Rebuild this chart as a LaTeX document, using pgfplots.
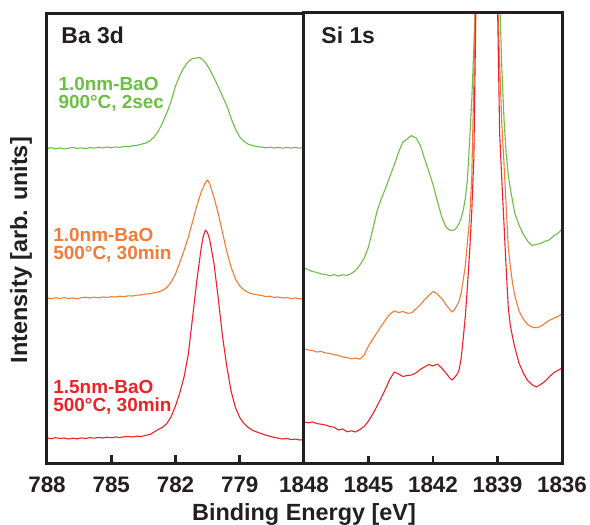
\documentclass[border=0pt]{standalone}
\usepackage{pgfplots}
\pgfplotsset{compat=1.18}
\usepackage{fontspec}
\setmainfont{Liberation Sans}
\definecolor{cgreen}{RGB}{109,190,69}
\definecolor{corange}{RGB}{244,123,54}
\definecolor{cred}{RGB}{236,34,39}
\definecolor{axgray}{RGB}{35,31,32}
\pgfplotsset{
  panel/.style={
    scale only axis, height=450bp, ymin=0, ymax=450, ytick=\empty,
    x dir=reverse, xtick pos=left, tick align=inside,
    line width=3bp, draw=axgray,
    major tick length=7.5bp,
    major tick style={line width=2.6bp, axgray},
    axis line style={line width=3bp, axgray},
    every outer x axis line/.append style={line width=3bp, axgray},
    every outer y axis line/.append style={line width=3bp, axgray},
    axis on top,
    /pgf/number format/assume math mode=true,
    xticklabel style={font=\fontsize{22.5}{22.5}\selectfont\bfseries, text=axgray, anchor=base, yshift=-29bp},
  },
  every axis plot/.append style={line width=1.1bp, line join=round},
}
\begin{document}
\begin{tikzpicture}
\begin{axis}[panel, width=257bp, at={(0bp,0bp)}, anchor=south west,
  xmin=776, xmax=788, xtick={788,785,782,779}, xticklabels={788,785,782,779},
  ylabel={Intensity [arb. units]},
  ylabel style={at={(axis description cs:-0.0778,0.473)}, anchor=base, font=\fontsize{23.5}{23.5}\selectfont\bfseries, text=axgray},
  xlabel={Binding Energy [eV]},
  xlabel style={at={(axis description cs:1,0)}, anchor=base, yshift=-57bp, font=\fontsize{23.5}{23.5}\selectfont\bfseries, text=axgray},
]
\addplot[cgreen] coordinates {
(788.0,314.5)(787.8,315.3)(787.6,314.2)(787.4,315.0)(787.2,314.0)(787.0,314.8)(786.8,315.6)(786.6,314.6)(786.4,315.2)(786.2,314.3)
(786.0,315.4)(785.8,314.9)(785.6,315.8)(785.4,315.0)(785.2,316.0)(785.0,315.2)(784.8,316.1)(784.6,315.6)(784.4,316.6)(784.2,316.2)
(784.0,317.3)(783.8,317.6)(783.6,318.8)(783.4,319.8)(783.2,322.0)(783.0,326.0)(782.8,332.0)(782.6,340.5)(782.4,350.5)(782.2,362.0)
(782.0,377.0)(781.8,387.5)(781.6,395.5)(781.4,401.5)(781.2,404.5)(781.0,405.0)(780.9,405.5)(780.8,404.5)(780.6,400.5)(780.4,393.5)
(780.2,385.0)(780.0,376.0)(779.8,366.5)(779.6,357.0)(779.4,344.5)(779.2,334.0)(779.0,326.0)(778.8,321.5)(778.6,318.8)(778.4,317.4)
(778.2,316.4)(778.0,316.0)(777.8,315.2)(777.6,315.8)(777.4,315.0)(777.2,315.6)(777.0,314.8)(776.8,315.5)(776.6,315.0)(776.4,315.6)
(776.2,314.9)(776.0,315.3)};
\addplot[corange] coordinates {
(788.0,165.0)(787.8,164.3)(787.6,165.2)(787.4,164.6)(787.2,165.4)(787.0,164.5)(786.8,165.0)(786.6,164.2)(786.4,165.3)(786.2,165.8)
(786.0,165.0)(785.8,165.9)(785.6,165.2)(785.4,166.0)(785.2,165.6)(785.0,166.3)(784.8,166.0)(784.6,166.8)(784.4,166.4)(784.2,167.2)
(784.0,167.0)(783.8,167.9)(783.6,168.0)(783.4,169.0)(783.2,169.3)(783.0,170.2)(782.8,171.0)(782.6,172.6)(782.4,175.5)(782.2,181.0)
(782.0,189.0)(781.8,200.5)(781.6,212.5)(781.4,226.0)(781.2,241.5)(781.0,257.5)(780.8,271.0)(780.6,280.5)(780.5,283.0)(780.4,279.0)
(780.2,265.5)(780.0,249.0)(779.8,230.0)(779.6,211.0)(779.4,195.5)(779.2,184.0)(779.0,177.0)(778.8,173.0)(778.6,170.5)(778.4,169.0)
(778.2,168.2)(778.0,167.6)(777.8,166.5)(777.6,166.8)(777.4,165.6)(777.2,166.0)(777.0,165.0)(776.8,165.4)(776.6,164.4)(776.4,165.0)
(776.2,164.2)(776.0,164.5)};
\addplot[cred] coordinates {
(788.0,25.0)(787.8,24.3)(787.6,25.3)(787.4,24.6)(787.2,25.0)(787.0,24.0)(786.8,24.8)(786.6,24.2)(786.4,25.1)(786.2,24.5)
(786.0,25.4)(785.8,24.8)(785.6,25.6)(785.4,25.0)(785.2,25.8)(785.0,25.3)(784.8,26.0)(784.6,25.4)(784.4,26.2)(784.2,26.6)
(784.0,26.0)(783.8,26.8)(783.6,26.5)(783.4,27.6)(783.2,28.4)(783.0,31.0)(782.8,33.6)(782.6,35.8)(782.4,39.5)(782.2,46.5)
(782.0,57.0)(781.8,70.0)(781.6,86.0)(781.4,109.0)(781.2,146.0)(781.0,183.0)(780.8,215.0)(780.7,227.0)(780.6,233.0)(780.5,230.0)
(780.4,223.0)(780.2,199.0)(780.0,164.0)(779.8,126.0)(779.6,96.0)(779.4,71.5)(779.2,55.5)(779.0,45.5)(778.8,39.5)(778.6,35.5)
(778.4,32.6)(778.2,31.0)(778.0,29.5)(777.8,28.0)(777.6,26.8)(777.4,25.6)(777.2,24.8)(777.0,24.0)(776.8,24.6)(776.6,23.4)
(776.4,23.9)(776.2,23.0)(776.0,23.5)};
\node[anchor=base west, inner sep=0pt, font=\fontsize{23}{23}\selectfont\bfseries, text=axgray] at (rel axis cs:0,1) [xshift=13bp, yshift=-30bp] {Ba 3d};
\node[anchor=base west, inner sep=0pt, font=\fontsize{19}{19}\selectfont\bfseries, text=cgreen] at (axis cs:787.53,373) {1.0nm-BaO};
\node[anchor=base west, inner sep=0pt, font=\fontsize{19}{19}\selectfont\bfseries, text=cgreen] at (axis cs:787.53,355) {900°C, 2sec};
\node[anchor=base west, inner sep=0pt, font=\fontsize{19}{19}\selectfont\bfseries, text=corange] at (axis cs:787.77,221.3) {1.0nm-BaO};
\node[anchor=base west, inner sep=0pt, font=\fontsize{19}{19}\selectfont\bfseries, text=corange] at (axis cs:787.77,203.3) {500°C, 30min};
\node[anchor=base west, inner sep=0pt, font=\fontsize{19}{19}\selectfont\bfseries, text=cred] at (axis cs:787.77,70.0) {1.5nm-BaO};
\node[anchor=base west, inner sep=0pt, font=\fontsize{19}{19}\selectfont\bfseries, text=cred] at (axis cs:787.77,52.0) {500°C, 30min};
\end{axis}
\begin{axis}[panel, width=258bp, at={(257bp,0bp)}, anchor=south west,
  xmin=1836, xmax=1848, xtick={1848,1845,1842,1839,1836}, xticklabels={1848,1845,1842,1839,1836},
]
\addplot[cgreen] coordinates {
(1848.0,195)(1847.8,193.2)(1847.6,191.5)(1847.4,190.6)(1847.2,189.0)(1847.0,188.6)(1846.8,187.2)(1846.6,188.4)(1846.4,187.0)(1846.2,188.2)
(1846.0,187.6)(1845.8,189.5)(1845.6,192.5)(1845.4,198.0)(1845.2,205.0)(1845.0,216.0)(1844.8,234.0)(1844.6,252.0)(1844.4,264.5)(1844.2,275.0)
(1844.0,287.0)(1843.8,298.0)(1843.6,311.0)(1843.4,321.0)(1843.2,324.0)(1843.0,327.5)(1842.9,326.0)(1842.8,325.5)(1842.6,318.0)(1842.4,305.0)
(1842.2,292.0)(1842.0,278.5)(1841.8,262.0)(1841.6,246.5)(1841.4,236.0)(1841.2,232.5)(1841.0,233.0)(1840.9,235.5)(1840.8,239.0)(1840.7,244.0)
(1840.6,252.0)(1840.5,264.0)(1840.4,283.0)(1840.3,320.0)(1840.2,362.0)(1840.1,415.0)(1840.0,480.0)(1839.45,1200)
(1838.9,465)(1838.8,396)(1838.7,345)(1838.6,310)(1838.5,288)(1838.4,274)(1838.2,250)(1838.0,238)(1837.8,228.5)(1837.6,222)
(1837.4,217.5)(1837.2,218.6)(1837.0,219.5)(1836.8,221.6)(1836.6,223.0)(1836.4,227.0)(1836.2,229.5)(1836.0,234.0)};
\addplot[corange] coordinates {
(1848.0,114.0)(1847.8,113.0)(1847.6,112.4)(1847.4,111.0)(1847.2,111.5)(1847.0,110.0)(1846.8,109.6)(1846.6,108.2)(1846.4,107.8)(1846.2,106.0)
(1846.0,105.5)(1845.8,104.2)(1845.6,105.0)(1845.4,103.8)(1845.2,108.0)(1845.0,117.0)(1844.8,124.0)(1844.6,130.5)(1844.4,137.0)(1844.2,143.5)
(1844.0,149.0)(1843.8,152.0)(1843.6,150.5)(1843.4,151.5)(1843.2,149.8)(1843.0,150.0)(1842.8,154.0)(1842.6,158.0)(1842.4,163.0)(1842.2,167.5)
(1842.0,171.5)(1841.9,170.5)(1841.8,169.0)(1841.6,164.5)(1841.4,158.5)(1841.2,153.0)(1841.1,151.0)(1841.0,153.5)(1840.9,157.0)(1840.8,161.0)
(1840.7,169.0)(1840.6,182.0)(1840.5,197.0)(1840.4,220.0)(1840.3,244.0)(1840.2,283.0)(1840.1,380.0)(1840.0,520.0)(1839.45,1200)
(1839.0,470)(1838.9,400)(1838.8,340)(1838.7,300)(1838.6,258)(1838.5,216)(1838.4,196)(1838.3,180)(1838.2,168)(1838.0,152)
(1837.8,144)(1837.6,138.5)(1837.4,136.0)(1837.2,135.2)(1837.0,136.5)(1836.8,139.5)(1836.6,142.5)(1836.4,144.5)(1836.2,146.5)(1836.0,149.0)};
\addplot[cred] coordinates {
(1848.0,41.0)(1847.8,40.2)(1847.6,41.0)(1847.4,39.4)(1847.2,38.8)(1847.0,38.0)(1846.8,36.5)(1846.6,35.8)(1846.4,33.0)(1846.2,34.0)
(1846.0,31.2)(1845.8,32.2)(1845.6,31.0)(1845.4,33.5)(1845.2,36.5)(1845.0,42.0)(1844.8,49.0)(1844.6,57.0)(1844.4,65.5)(1844.2,74.5)
(1844.0,84.0)(1843.8,91.0)(1843.6,89.0)(1843.4,86.5)(1843.2,87.5)(1843.0,88.0)(1842.8,90.0)(1842.6,93.5)(1842.4,96.0)(1842.2,98.5)
(1842.0,97.0)(1841.8,99.0)(1841.6,95.0)(1841.4,90.0)(1841.2,84.5)(1841.1,83.0)(1841.0,85.5)(1840.9,88.0)(1840.8,92.0)(1840.7,103.0)
(1840.6,123.0)(1840.5,146.0)(1840.4,176.0)(1840.3,210.0)(1840.2,250.0)(1840.1,305.0)(1840.0,465.0)(1839.45,1200)
(1839.0,460)(1838.9,330)(1838.8,283)(1838.7,240)(1838.6,196)(1838.5,156)(1838.4,137)(1838.3,126)(1838.2,116)(1838.0,100)
(1837.8,90)(1837.6,82.5)(1837.4,78.5)(1837.2,76.0)(1837.0,78.5)(1836.8,81.5)(1836.6,86.0)(1836.4,90.0)(1836.2,92.5)(1836.0,95.0)};
\node[anchor=base west, inner sep=0pt, font=\fontsize{23}{23}\selectfont\bfseries, text=axgray] at (rel axis cs:0,1) [xshift=16bp, yshift=-30bp] {Si 1s};
\end{axis}
\pgfresetboundingbox
\useasboundingbox (-47bp,-62bp) rectangle (543bp,463bp);
\end{tikzpicture}
\end{document}
